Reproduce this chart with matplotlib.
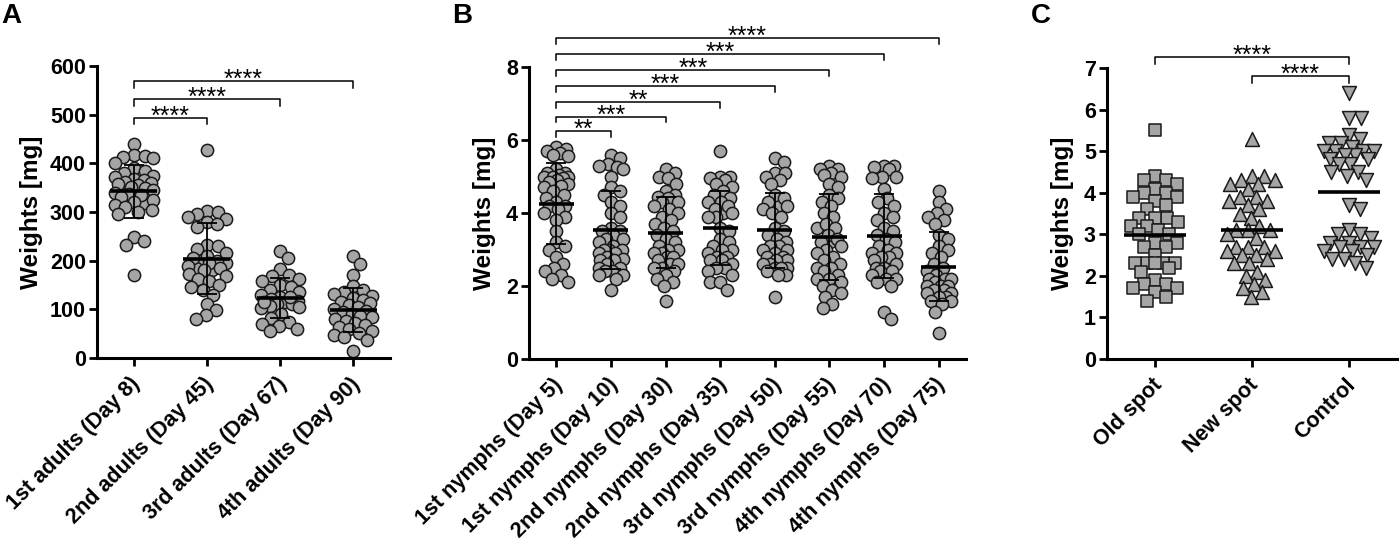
import matplotlib
matplotlib.use("Agg")
import matplotlib.pyplot as plt
from matplotlib.transforms import ScaledTranslation
import numpy as np

plt.rcParams['font.family'] = ['Liberation Sans', 'DejaVu Sans']

# ---------------- data ----------------
labels_A = ["1st adults (Day 8)", "2nd adults (Day 45)", "3rd adults (Day 67)", "4th adults (Day 90)"]
adults_1 = [440, 418, 415, 412, 410, 345, 340, 400, 335, 390, 318, 385, 380, 375, 372, 368, 365, 362, 360,
            358, 355, 352, 350, 345, 340, 338, 335, 330, 325, 320, 315, 310, 305, 300, 295, 248, 240, 232, 170]
adults_2 = [428, 303, 300, 296, 290, 286, 280, 275, 270, 200, 195, 185, 180, 232, 230, 225, 215, 210, 205,
            200, 195, 190, 185, 180, 172, 168, 162, 158, 150, 145, 140, 130, 111, 99, 89, 80]
adults_3 = [219, 205, 182, 170, 168, 162, 158, 150, 145, 140, 135, 130, 126, 122, 118, 115, 110, 106, 102,
            110, 115, 90, 125, 82, 105, 74, 70, 65, 60, 56]
adults_4 = [210, 193, 170, 148, 140, 136, 132, 128, 124, 120, 116, 112, 108, 104, 100, 97, 94, 90, 87, 84,
            80, 76, 72, 68, 64, 60, 56, 52, 48, 44, 38, 15]

labels_B = ["1st nymphs (Day 5)", "1st nymphs (Day 10)", "2nd nymphs (Day 30)", "2nd nymphs (Day 35)",
            "3rd nymphs (Day 50)", "3rd nymphs (Day 55)", "4th nymphs (Day 70)", "4th nymphs (Day 75)"]
nymph_1 = [5.8, 5.75, 5.7, 5.65, 5.6, 5.55, 5.2, 5.1, 5.1, 5.05, 5.0, 5.0, 5.0, 4.95, 4.9, 4.85, 4.8, 4.75,
           4.7, 4.6, 4.5, 4.4, 4.3, 4.2, 4.2, 4.1, 4.0, 3.9, 3.8, 3.5, 3.2, 3.1, 3.0, 2.8, 2.6, 2.5, 2.4,
           2.3, 2.2, 2.1]
nymph_2 = [5.6, 5.5, 5.35, 5.3, 5.25, 5.2, 5.0, 4.7, 4.6, 4.5, 4.3, 4.2, 4.0, 3.9, 3.6, 3.5, 3.5, 3.4, 3.3,
           3.3, 3.2, 3.1, 3.0, 3.0, 3.0, 2.9, 2.9, 2.8, 2.75, 2.7, 2.7, 2.6, 2.5, 2.5, 2.4, 2.4, 2.3, 2.3,
           2.2, 1.9]
nymph_3 = [5.2, 5.1, 5.0, 4.95, 4.8, 4.6, 4.5, 4.45, 4.4, 4.3, 4.3, 4.2, 4.1, 4.0, 3.9, 3.8, 3.7, 3.6, 3.5,
           3.4, 3.3, 3.2, 3.1, 3.0, 3.0, 2.9, 2.9, 2.8, 2.8, 2.7, 2.6, 2.6, 2.5, 2.5, 2.4, 2.3, 2.2, 2.1,
           2.0, 1.6]
nymph_4 = [5.7, 5.0, 5.0, 4.95, 4.9, 4.0, 4.8, 4.7, 4.6, 4.5, 4.4, 4.3, 4.3, 4.2, 4.1, 4.0, 3.9, 3.9, 3.6,
           3.5, 3.3, 3.2, 3.1, 3.0, 3.0, 2.9, 2.8, 2.8, 2.7, 2.7, 2.6, 2.5, 2.5, 2.4, 2.3, 2.1, 2.1, 1.9]
nymph_5 = [5.5, 5.4, 5.1, 5.1, 5.0, 4.9, 4.8, 4.2, 4.5, 4.4, 4.3, 4.2, 4.1, 4.0, 3.9, 3.6, 3.5, 3.4, 3.3,
           3.2, 3.1, 3.1, 3.0, 3.0, 2.9, 2.8, 2.8, 2.7, 2.7, 2.6, 2.6, 2.5, 2.5, 2.5, 2.4, 2.3, 2.3, 1.7]
nymph_6 = [5.3, 5.2, 5.2, 5.1, 5.05, 5.0, 3.6, 4.8, 4.7, 4.5, 4.4, 4.3, 4.2, 3.2, 4.0, 3.9, 3.7, 3.6, 3.4,
           3.3, 3.2, 3.1, 3.0, 2.9, 2.8, 2.7, 2.6, 2.5, 2.5, 2.4, 2.3, 2.2, 2.2, 2.1, 2.0, 1.9, 1.8, 1.7,
           1.5, 1.4]
nymph_7 = [5.3, 5.3, 5.25, 5.2, 5.0, 5.0, 4.95, 4.65, 4.4, 4.3, 4.2, 4.0, 3.9, 3.8, 3.6, 3.5, 3.4, 3.3,
           3.2, 3.1, 3.0, 2.9, 2.9, 2.8, 2.8, 2.7, 2.6, 2.5, 2.5, 2.4, 2.4, 2.3, 2.2, 2.2, 2.1, 2.0, 1.3,
           1.1]
nymph_8 = [4.6, 4.3, 4.1, 4.0, 3.9, 3.8, 3.7, 3.4, 3.3, 3.1, 3.0, 2.9, 2.8, 2.2, 2.6, 2.5, 2.4, 2.3, 2.2,
           2.2, 2.2, 2.1, 2.0, 2.0, 2.0, 1.9, 1.9, 1.8, 1.8, 1.7, 1.7, 1.6, 1.6, 1.5, 1.3, 0.7]

labels_C = ["Old spot", "New spot", "Control"]
old_spot = [5.5, 4.4, 4.3, 4.3, 4.2, 4.1, 4.0, 4.0, 3.9, 3.9, 3.8, 3.7, 3.6, 3.4, 3.4, 3.4, 3.3, 3.2, 3.2,
            3.1, 3.0, 3.0, 2.8, 2.8, 2.7, 2.7, 2.5, 2.3, 2.3, 2.3, 2.3, 2.3, 2.2, 2.1, 1.9, 1.8, 1.8, 1.7,
            1.7, 1.6, 1.5, 1.4]
new_spot = [5.3, 4.4, 4.4, 4.3, 4.3, 4.2, 4.2, 4.1, 3.9, 3.9, 3.8, 3.8, 3.7, 3.6, 3.5, 3.4, 3.2, 3.1, 3.1,
            3.1, 3.0, 2.9, 2.7, 2.7, 2.7, 2.6, 2.6, 2.5, 2.5, 2.4, 2.3, 2.3, 2.1, 2.0, 1.9, 1.8, 1.7, 1.6,
            1.5]
control = [6.4, 5.8, 5.8, 5.4, 5.3, 5.2, 5.2, 5.1, 5.0, 5.0, 5.0, 5.0, 4.9, 4.9, 4.8, 4.8, 4.7, 4.7, 4.5,
           4.5, 4.4, 4.3, 3.7, 3.6, 3.1, 3.0, 3.0, 2.9, 2.8, 2.8, 2.7, 2.7, 2.7, 2.6, 2.6, 2.5, 2.4, 2.4,
           2.3, 2.2]

sig_A = [(0, 1, 494, "****"), (0, 2, 532, "****"), (0, 3, 569, "****")]
sig_B = [(0, 1, 6.25, "**"), (0, 2, 6.64, "***"), (0, 3, 7.05, "**"), (0, 4, 7.48, "***"),
         (0, 5, 7.92, "***"), (0, 6, 8.36, "***"), (0, 7, 8.79, "****")]
sig_C = [(0, 2, 7.26, "****"), (1, 2, 6.81, "****")]

# ---------------- style ----------------
FILL = '#a5a5a5'
EDGE = '#1a1a1a'
TICK_FS = 15.5
XTICK_FS = 15.5
LAB_FS = 17.5

W, H = 1400, 543
fig = plt.figure(figsize=(W / 100, H / 100), dpi=100)
axA = fig.add_axes([97 / W, 1 - 358 / H, 293 / W, 292 / H])
axB = fig.add_axes([529 / W, 1 - 359 / H, 437 / W, 292 / H])
axC = fig.add_axes([1107 / W, 1 - 359 / H, 290 / W, 291 / H])


def style(ax, ylim, yticks, xlabels, labx):
    ax.set_xlim(-0.5, len(xlabels) - 0.5)
    ax.set_ylim(*ylim)
    for s in ('top', 'right'):
        ax.spines[s].set_visible(False)
    for s in ('left', 'bottom'):
        ax.spines[s].set_linewidth(2.2)
    ax.set_yticks(yticks)
    ax.set_yticklabels([str(t) for t in yticks], fontsize=TICK_FS, fontweight='bold')
    ax.set_xticks(range(len(xlabels)))
    ax.set_xticklabels(xlabels, rotation=45, ha='right', va='top', rotation_mode='anchor',
                       fontsize=XTICK_FS, fontweight='bold')
    ax.tick_params(direction='out', length=6, width=2, pad=2)
    ax.tick_params(axis='x', pad=5)
    shift = ScaledTranslation(-4 / 100, 0, fig.dpi_scale_trans)
    for lab in ax.get_xticklabels():
        lab.set_transform(lab.get_transform() + shift)
    ax.set_ylabel('Weights [mg]', fontsize=LAB_FS, fontweight='bold')
    ax.yaxis.set_label_coords(labx, 0.5)
    ax.yaxis.label.set_va('center')


def swarm(ax, xc, vals, half_w, dmin, step=1.0):
    t = ax.transData
    ppx = t.transform((1, 0))[0] - t.transform((0, 0))[0]
    order = np.argsort(vals)[::-1]
    placed = []
    offs = np.zeros(len(vals))
    cands = [0.0]
    k = 1
    while k * step <= half_w:
        cands += [k * step, -k * step]
        k += 1
    for idx in order:
        ypx = t.transform((xc, vals[idx]))[1]
        best, bestd = 0.0, -1
        chosen = None
        for c in cands:
            if placed:
                arr = np.array(placed)
                md = np.min(np.hypot(arr[:, 0] - c, arr[:, 1] - ypx))
            else:
                md = np.inf
            if md >= dmin:
                chosen = c
                break
            if md > bestd:
                bestd, best = md, c
        if chosen is None:
            chosen = best
        placed.append((chosen, ypx))
        offs[idx] = chosen / ppx
    return xc + offs


def draw_groups(ax, groups, markers, sizes, half_w, dmin, bars=True):
    for i, vals in enumerate(groups):
        vals = np.asarray(vals, dtype=float)
        xs = swarm(ax, i, vals, half_w, dmin)
        ax.scatter(xs, vals, s=sizes[i], marker=markers[i], facecolor=FILL, edgecolor=EDGE,
                   linewidths=1.1, zorder=2, clip_on=False)
        m = vals.mean()
        sd = vals.std(ddof=1)
        if bars:
            ax.errorbar(i, m, yerr=sd, fmt='none', ecolor='black', elinewidth=1.3,
                        capsize=7, capthick=1.3, zorder=3)
        ax.hlines(m, i - 0.32, i + 0.32, color='black', lw=2.6, zorder=4)


def brackets(ax, sigs, drop):
    for x1, x2, y, txt in sigs:
        ax.plot([x1, x1, x2, x2], [y - drop, y, y, y - drop], color='black', lw=1.1,
                clip_on=False, zorder=5)
        ax.annotate(txt, xy=((x1 + x2) / 2, y), xytext=(0, -4.2), textcoords='offset points',
                    ha='center', va='baseline', fontsize=18, annotation_clip=False)


style(axA, (0, 600), list(range(0, 601, 100)), labels_A, -0.222)
style(axB, (0, 8), [0, 2, 4, 6, 8], labels_B, -0.101)
style(axC, (0, 7), list(range(0, 8)), labels_C, -0.155)

draw_groups(axA, [adults_1, adults_2, adults_3, adults_4], ['o'] * 4, [78] * 4, 19, 10.5)
draw_groups(axB, [nymph_1, nymph_2, nymph_3, nymph_4, nymph_5, nymph_6, nymph_7, nymph_8],
            ['o'] * 8, [78] * 8, 12, 9.5)
draw_groups(axC, [old_spot, new_spot, control], ['s', '^', 'v'], [78, 100, 100], 25, 11.5, bars=False)

brackets(axA, sig_A, 14)
brackets(axB, sig_B, 0.16)
brackets(axC, sig_C, 0.16)

for x, lab in [(1, 'A'), (452, 'B'), (1031, 'C')]:
    fig.text(x / W, 1 - 23 / H, lab, fontsize=20, fontweight='bold', ha='left', va='baseline')

fig.savefig('out.png', dpi=100)
